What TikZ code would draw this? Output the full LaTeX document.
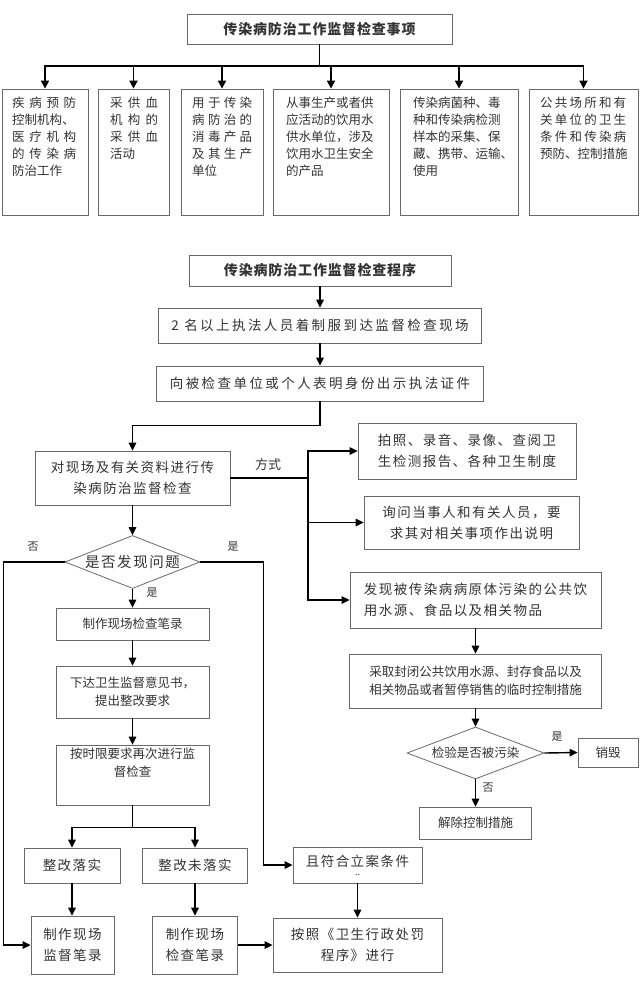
\documentclass[tikz,border=0pt]{standalone}
\usepackage{fontspec}
\setmainfont{Noto Sans CJK SC}
\newfontfamily\fA{Noto Sans CJK SC}[LetterSpace=11]
\newfontfamily\fB{Noto Sans CJK SC}[LetterSpace=18]
\newfontfamily\fT{Noto Sans CJK SC}[LetterSpace=6]
\usetikzlibrary{arrows.meta,shapes.geometric}
\definecolor{txtc}{HTML}{333333}
\definecolor{boxc}{HTML}{6A6A6A}
\newcommand\jl[2]{\makebox[#1pt][s]{#2}}
\begin{document}
\begin{tikzpicture}[x=1pt,y=-1pt,
  box/.style={draw=boxc, line width=0.8pt, inner sep=0pt, align=center, text=txtc},
  tb/.style={box, font=\fT\bfseries\fontsize{14}{18}\selectfont},
  m15/.style={box, font=\fA\fontsize{13.5}{21}\selectfont},
  m16/.style={box, font=\fB\fontsize{13.5}{21}\selectfont},
  m13/.style={box, font=\fontsize{12.5}{18}\selectfont},
  topt/.style={inner sep=0pt, align=left, anchor=north west, text=txtc, font=\fontsize{12.5}{17}\selectfont},
  lab/.style={inner sep=0pt, text=txtc, font=\fontsize{11}{11}\selectfont},
  conn/.style={line width=1.4pt, -{Triangle[length=8pt,width=7.5pt]}},
  tconn/.style={line width=1.7pt, -{Triangle[length=8pt,width=8pt]}},
  ln/.style={line width=1.4pt},
  dia/.style={draw=boxc, line width=0.8pt, diamond, inner sep=0pt}]
\fill[white] (0,0) rectangle (640,990);
\useasboundingbox (0,0) rectangle (640,990);

% ---------- part 1 ----------
\node[tb, minimum width=265, minimum height=30] (t1) at (319.5,29) {传染病防治工作监督检查事项};
\node[box, minimum width=86, minimum height=126] (b1) at (45,152) {};
\node[box, minimum width=71, minimum height=126] (b2) at (133.5,152) {};
\node[box, minimum width=82, minimum height=126] (b3) at (222,152) {};
\node[box, minimum width=116, minimum height=126] (b4) at (331,152) {};
\node[box, minimum width=118, minimum height=126] (b5) at (459,152) {};
\node[box, minimum width=109, minimum height=126] (b6) at (583.5,152) {};

\node[topt] (b1t) at (12,97) {\jl{64}{疾 病 预 防}\\控制机构、\\\jl{64}{医 疗 机 构}\\\jl{64}{的 传 染 病}\\防治工作};
\node[topt] (b2t) at (110,97) {\jl{48}{采 供 血}\\\jl{48}{机 构 的}\\\jl{48}{采 供 血}\\活动};
\node[topt] (b3t) at (192,97) {\jl{60}{用 于 传 染}\\\jl{60}{病 防 治 的}\\\jl{60}{消 毒 产 品}\\\jl{60}{及 其 生 产}\\单位};
\node[topt] (b4t) at (286,97) {从事生产或者供\\应活动的饮用水\\供水单位，涉及\\饮用水卫生安全\\的产品};
\node[topt] (b5t) at (413,97) {传染病菌种、毒\\种和传染病检测\\样本的采集、保\\藏、携带、运输、\\使用};
\node[topt] (b6t) at (540,97) {\jl{86}{公 共 场 所 和 有}\\\jl{86}{关 单 位 的 卫 生}\\\jl{86}{条 件 和 传 染 病}\\预防、控制措施};

\coordinate (bus) at (319.5,66);
\draw[line width=1.7pt] (t1.south) -- (bus);
\foreach \b in {b1,b2,b3,b4,b5,b6} \draw[tconn] (bus) -| (\b.north);

% ---------- part 2 ----------
\node[tb, minimum width=262, minimum height=31] (t2) at (320,270.5) {传染病防治工作监督检查程序};
\node[m16, minimum width=323, minimum height=35] (s1) at (320,325.5) {2 名以上执法人员着制服到达监督检查现场};
\node[m16, minimum width=327, minimum height=35] (s2) at (320,383.5) {向被检查单位或个人表明身份出示执法证件};
\node[m15, minimum width=195, minimum height=54] (s3) at (132.5,478) {对现场及有关资料进行传\\染病防治监督检查};

\node[m15, minimum width=218, minimum height=56] (r1) at (467,451) {拍照、录音、录像、查阅卫\\生检测报告、各种卫生制度};
\node[m15, minimum width=215, minimum height=53] (r2) at (471.5,522.5) {询问当事人和有关人员，要\\求其对相关事项作出说明};
\node[m15, minimum width=251, minimum height=56, align=left] (r3) at (475.5,600) {发现被传染病病原体污染的公共饮\\用水源、食品以及相关物品};
\node[m13, minimum width=252, minimum height=54] (r4) at (475.5,681) {采取封闭公共饮用水源、封存食品以及\\相关物品或者暂停销售的临时控制措施};
\node[dia, minimum width=137, minimum height=52, label={[m13, draw=none]center:检验是否被污染}] (d2) at (475.5,753) {};
\node[m13, minimum width=60, minimum height=29] (xh) at (608,752.5) {销毁};
\node[m13, minimum width=112, minimum height=32] (jc) at (475.5,823) {解除控制措施};

\node[dia, minimum width=135, minimum height=53, label={[box, draw=none, font=\fA\fontsize{14.5}{18}\selectfont]center:是否发现问题}] (d1) at (132.5,562) {};
\node[m13, minimum width=153, minimum height=32] (c1) at (132.5,624) {制作现场检查笔录};
\node[m13, minimum width=153, minimum height=52] (c2) at (132.5,692) {下达卫生监督意见书，\\提出整改要求};
\node[m13, minimum width=153, minimum height=60] (c3) at (132.5,775) {按时限要求再次进行监\\督检查\\[8pt]};

\node[m15, minimum width=96, minimum height=35] (zg1) at (72,865.5) {整改落实};
\node[m15, minimum width=105, minimum height=35] (zg2) at (195,865.5) {整改未落实};
\node[m15, minimum width=129, minimum height=36] (lian) at (357.5,865) {};
\node[lab, font=\fA\fontsize{13.5}{16}\selectfont] (liant) at (357.5,861) {且符合立案条件};
\node[lab, font=\fontsize{9}{9}\selectfont] (dots) at (357.5,875) {..};
\node[m15, minimum width=83, minimum height=58] (jl) at (72.5,945) {制作现场\\监督笔录};
\node[m15, minimum width=85, minimum height=58] (jc2) at (195,945) {制作现场\\检查笔录};
\node[m15, minimum width=169, minimum height=54] (cf) at (357.5,945) {按照《卫生行政处罚\\程序》进行};

% labels
\node[lab, font=\fontsize{13}{13}\selectfont] (fs) at (268,465) {方式};
\node[lab] (no1) at (33,547) {否};
\node[lab] (yes1) at (233,547) {是};
\node[lab] (yes2) at (152,593) {是};
\node[lab] (yes3) at (557,737) {是};
\node[lab] (no2) at (488,788) {否};

% connectors
\draw[conn] (t2.south) -- (t2.south |- s1.north);
\draw[conn] (s1.south) -- (s1.south |- s2.north);
\draw[conn] (s2.south) -- ++(0,24) -| (s3.north);
\coordinate (tk) at (308,478);
\draw[ln] (s3.east) -- (tk);
\draw[conn] (tk) |- (r1.west);
\draw[conn] (tk) |- (r2.west);
\draw[conn] (tk) |- (r3.west);
\draw[conn] (r3.south) -- (r4.north);
\draw[conn] (r4.south) -- (d2.north);
\draw[conn] (d2.east) -- (xh.west);
\draw[conn] (d2.south) -- (jc.north);

\draw[conn] (s3.south) -- (d1.north);
\draw[conn] (d1.south) -- (c1.north);
\draw[conn] (c1.south) -- (c2.north);
\draw[conn] (c2.south) -- (c3.north);
\draw[ln] (c3.south) -- ++(0,22) coordinate (br);
\draw[conn] (br) -| (zg1.north);
\draw[conn] (br) -| (zg2.north);
\draw[conn] (zg1.south) -- (zg1.south |- jl.north);
\draw[conn] (zg2.south) -- (jc2.north);
\draw[conn] (d1.west) -- ++(-61,0) |- (jl.west);
\draw[conn] (d1.east) -- ++(63,0) |- (lian.west);
\draw[conn] (jc2.east) -- (cf.west);
\draw[conn] (lian.south) -- (cf.north);
\end{tikzpicture}
\end{document}
